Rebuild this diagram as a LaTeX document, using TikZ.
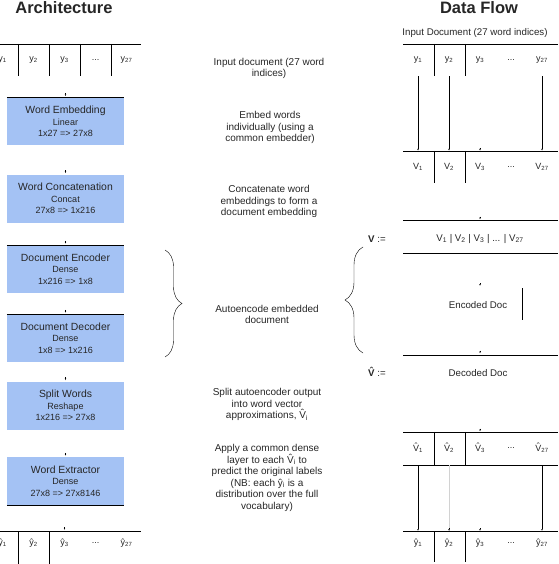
\documentclass[tikz,border=0pt]{standalone}
\usepackage{fontspec}
\setmainfont{Liberation Sans}
\usetikzlibrary{arrows.meta,decorations.pathreplacing}
\definecolor{layerblue}{HTML}{A4C2F4}
\newcommand{\lyrsub}{\fontsize{9}{11.5}\selectfont}
\newcommand{\hatV}{{\ooalign{V\cr\hidewidth\raisebox{0.2em}{\char"02C6}\hidewidth\cr}}}
\newcommand{\celldots}{...}
\begin{document}
\begin{tikzpicture}[x=1pt,y=-1pt,
    every node/.style={text=black!85},
    layer/.style={fill=layerblue, minimum width=117pt, minimum height=48pt, inner sep=0pt, align=center, font=\fontsize{10.4}{11.5}\selectfont},
    note/.style={align=center, font=\fontsize{10}{11.5}\selectfont},
    cell/.style={minimum width=31pt, inner sep=0pt, font=\fontsize{9}{10}\selectfont},
    flowtext/.style={font=\fontsize{9.7}{11}\selectfont},
    title/.style={font=\bfseries\fontsize{16.5}{18}\selectfont, anchor=base},
    stub/.style={-{Latex[length=2pt,width=1.5pt]}}]
    \useasboundingbox (0,0) rectangle (558,564);

    % titles
    \node[title] (archtitle) at (64,13.5) {Architecture};
    \node[title] (flowtitle) at (479,13.5) {Data Flow};

    % architecture column
    \draw (0,44) -- (141,44);
    \foreach[count=\x] \t in {y\textsubscript{1},y\textsubscript{2},y\textsubscript{3},\celldots,y\textsubscript{27}}
    {
        \node[cell, minimum height=32pt] (ain\x) at (2.5+31*\x-31,60) {\t};
    }
    \foreach \x in {1,2,3,4}
        \draw (ain\x.north east) -- (ain\x.south east);

    \node[layer] (wordemb) at (65.5,121.5) {Word Embedding\\{\lyrsub Linear}\\{\lyrsub 1x27 => 27x8}};
    \node[layer] (wordcat) at (65.5,198.5) {Word Concatenation\\{\lyrsub Concat}\\{\lyrsub 27x8 => 1x216}};
    \node[layer] (docenc) at (65.5,269) {Document Encoder\\{\lyrsub Dense}\\{\lyrsub 1x216 => 1x8}};
    \node[layer] (docdec) at (65.5,338) {Document Decoder\\{\lyrsub Dense}\\{\lyrsub 1x8 => 1x216}};
    \node[layer] (splitwords) at (65.5,405.5) {Split Words\\{\lyrsub Reshape}\\{\lyrsub 1x216 => 27x8}};
    \node[layer] (wordext) at (65.5,481) {Word Extractor\\{\lyrsub Dense}\\{\lyrsub 27x8 => 27x8146}};
    \foreach \b in {wordemb,docenc,docdec}
        \draw (\b.north west) -- (\b.north east);
    \draw (wordext.south west) -- (wordext.south east);

    \draw (0,531) -- (141,531);
    \foreach[count=\x] \t in {ŷ\textsubscript{1},ŷ\textsubscript{2},ŷ\textsubscript{3},\celldots,ŷ\textsubscript{27}}
    {
        \node[cell, minimum height=24pt, anchor=north] (aout\x) at (2.5+31*\x-31,531) {\t};
    }
    \foreach \x in {1,2}
        \draw (aout\x.north east) -- ++(0,33);

    \foreach \b in {wordemb,wordcat,docenc,docdec,splitwords,wordext,aout3}
        \draw[stub] ([yshift=4pt]\b.north) -- ([yshift=1pt]\b.north);

    % notes
    \node[note] (notein) at (269,68.5) {Input document (27 word\\indices)};
    \node[note] (noteemb) at (270,127.5) {Embed words\\individually (using a\\common embedder)};
    \node[note] (notecat) at (269,201.5) {Concatenate word\\embeddings to form a\\document embedding};
    \node[note] (noteae) at (267,314.5) {Autoencode embedded\\document};
    \node[note] (notesplit) at (267,404.5) {Split autoencoder output\\into word vector\\approximations, \hatV\textsubscript{i}};
    \node[note] (noteext) at (267,478) {Apply a common dense\\layer to each \hatV\textsubscript{i} to\\predict the original labels\\(NB: each ŷ\textsubscript{i} is a\\distribution over the full\\vocabulary)};

    \draw[decorate, decoration={brace, amplitude=17pt}] (165,250) -- (165,357);
    \draw[decorate, decoration={brace, amplitude=18pt}] (363,353) -- (363,247);

    % data flow column
    \node[flowtext] (flowin) at (475,33) {Input Document (27 word indices)};
    \draw (403,44) -- (558,44);
    \foreach[count=\x] \t in {y\textsubscript{1},y\textsubscript{2},y\textsubscript{3},\celldots,y\textsubscript{27}}
    {
        \node[cell, minimum height=32pt] (din\x) at (418+31*\x-31,60) {\t};
    }
    \draw (403,151) -- (558,151);
    \foreach[count=\x] \t in {V\textsubscript{1},V\textsubscript{2},V\textsubscript{3},\celldots,V\textsubscript{27}}
    {
        \node[cell, minimum height=32pt] (demb\x) at (418+31*\x-31,167) {\t};
    }
    \foreach \x in {1,2}
    {
        \draw (din\x.north east) -- (din\x.south east);
        \draw (demb\x.north east) -- (demb\x.south east);
    }
    \foreach \x in {1,2,5}
        \draw[stub] (din\x.south) -- (demb\x.north);
    \draw[stub] ([yshift=3pt]demb3.north) -- (demb3.north);

    \draw (403,220) -- (558,220);
    \draw[stub] (480,216.5) -- (480,219.5);
    \node[flowtext] (vdef) at (377,239) {\textbf{V} :=};
    \node[flowtext] (vcat) at (480,239) {V\textsubscript{1} | V\textsubscript{2} | V\textsubscript{3} | \celldots{} | V\textsubscript{27}};
    \draw (403,253) -- (558,253);

    \draw[stub] (480,283) -- (480,286);
    \node[flowtext] (encdoc) at (478,305) {Encoded Doc};
    \draw (522,288) -- (522,320);

    \draw (403,355) -- (558,355);
    \draw[stub] (480,350.5) -- (480,353.5);
    \node[flowtext] (vhatdef) at (377,373) {\textbf{\hatV} :=};
    \node[flowtext] (decdoc) at (478,373) {Decoded Doc};

    \draw (403,432) -- (558,432);
    \draw[stub] (480,428.5) -- (480,431.5);
    \foreach[count=\x] \t in {\hatV\textsubscript{1},\hatV\textsubscript{2},\hatV\textsubscript{3},\celldots,\hatV\textsubscript{27}}
    {
        \node[cell, minimum height=33pt] (dhat\x) at (418+31*\x-31,448.5) {\t};
    }
    \draw (403,465) -- (558,465);
    \draw (403,531) -- (558,531);
    \foreach[count=\x] \t in {ŷ\textsubscript{1},ŷ\textsubscript{2},ŷ\textsubscript{3},\celldots,ŷ\textsubscript{27}}
    {
        \node[cell, minimum height=24pt, anchor=north] (dout\x) at (418+31*\x-31,531) {\t};
    }
    \foreach \x in {1,2}
    {
        \draw (dhat\x.north east) -- (dhat\x.south east);
        \draw (dout\x.north east) -- ++(0,31);
    }
    \foreach \x in {1,5}
        \draw[stub] (dhat\x.south) -- (dout\x.north);
    \draw[gray!35] (dhat2.south) -- (dout2.north);
    \foreach \x in {2,3}
        \draw[stub] ([yshift=3pt]dout\x.north) -- (dout\x.north);

\end{tikzpicture}
\end{document}
